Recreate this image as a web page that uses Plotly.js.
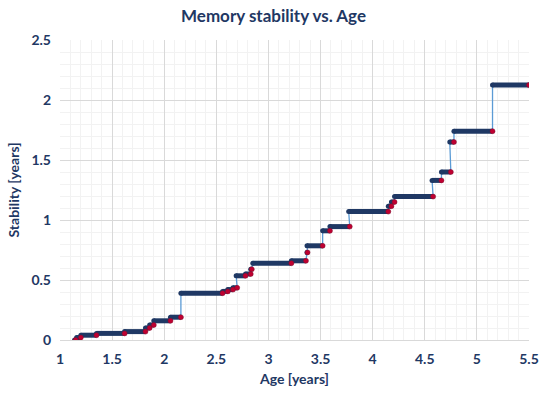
<!DOCTYPE html>
<html>
<head>
<meta charset="utf-8">
<script src="https://cdn.plot.ly/plotly-3.0.1.min.js"></script>
<style>html,body{margin:0;padding:0;background:#fff;}#chart{width:547px;height:397px;}</style>
</head>
<body>
<div id="chart"></div>
<script>
// Plateaus of memory stability (age in years)
const stepStart = [1.14, 1.16, 1.20, 1.35, 1.62, 1.82, 1.86, 1.90, 2.06, 2.16, 2.56, 2.61, 2.66, 2.69, 2.78, 2.83, 2.85, 3.22, 3.37, 3.37, 3.52, 3.59, 3.77, 4.15, 4.18, 4.21, 4.57, 4.66, 4.74, 4.78, 5.15];
const stepEnd   = [1.15, 1.20, 1.35, 1.62, 1.82, 1.86, 1.90, 2.06, 2.16, 2.56, 2.61, 2.66, 2.70, 2.78, 2.83, 2.84, 3.22, 3.36, 3.375, 3.52, 3.59, 3.78, 4.15, 4.18, 4.21, 4.58, 4.66, 4.75, 4.78, 5.15, 5.50];
const stepValue = [0.00, 0.02, 0.04, 0.055, 0.07, 0.10, 0.125, 0.16, 0.19, 0.39, 0.405, 0.42, 0.435, 0.535, 0.55, 0.59, 0.64, 0.66, 0.73, 0.785, 0.91, 0.945, 1.07, 1.115, 1.15, 1.195, 1.33, 1.40, 1.65, 1.74, 2.125];
const xTicks = [1, 1.5, 2, 2.5, 3, 3.5, 4, 4.5, 5, 5.5];
const yTicks = [0, 0.5, 1, 1.5, 2, 2.5];

const navy = '#1F3864';
const fontFam = 'Lato, "Open Sans", sans-serif';

// thin connecting line
const connX = [], connY = [];
for (let i = 0; i < stepStart.length; i++) {
  connX.push(stepStart[i], stepEnd[i]);
  connY.push(stepValue[i], stepValue[i]);
}
// thick plateaus
const barX = [], barY = [];
for (let i = 0; i < stepStart.length; i++) {
  barX.push(stepStart[i], stepEnd[i], null);
  barY.push(stepValue[i], stepValue[i], null);
}

const traces = [
  {x: connX, y: connY, mode: 'lines', line: {color: '#5B9BD5', width: 1.3}, hoverinfo: 'skip'},
  {x: barX, y: barY, mode: 'lines', line: {color: navy, width: 5}, connectgaps: false},
  {x: stepStart, y: stepValue, mode: 'markers', marker: {color: navy, size: 5}},
  {x: stepEnd, y: stepValue, mode: 'markers', marker: {color: '#C00030', size: 5, line: {color: '#7a1030', width: 0.5}}}
];

const layout = {
  width: 547, height: 397,
  margin: {l: 60, r: 18, t: 40, b: 57},
  paper_bgcolor: '#ffffff', plot_bgcolor: '#ffffff',
  showlegend: false,
  title: {text: 'Memory stability vs. Age', x: 0.5, xanchor: 'center', y: 0.975, yanchor: 'top',
          font: {family: fontFam, size: 17, color: navy, weight: 'bold'}},
  xaxis: {
    range: [1, 5.5], tickvals: xTicks, ticktext: xTicks.map(String),
    showgrid: true, gridcolor: '#D9D9D9', gridwidth: 1,
    minor: {dtick: 0.1, showgrid: true, gridcolor: '#F2F2F2', gridwidth: 1},
    zeroline: false, showline: true, linecolor: '#D9D9D9', linewidth: 1, mirror: false,
    ticks: '', ticklen: 0, ticklabelstandoff: 6,
    tickfont: {family: fontFam, size: 14, color: navy, weight: 'bold'},
    title: {text: 'Age [years]', standoff: 8, font: {family: fontFam, size: 14, color: navy, weight: 'bold'}}
  },
  yaxis: {
    range: [0, 2.5], tickvals: yTicks, ticktext: ['0', '0.5', '1', '1.5', '2', '2.5'],
    showgrid: true, gridcolor: '#D9D9D9', gridwidth: 1,
    minor: {dtick: 0.1, showgrid: true, gridcolor: '#F2F2F2', gridwidth: 1},
    zeroline: false, showline: false,
    ticks: '', ticklen: 0, ticklabelstandoff: 8,
    tickfont: {family: fontFam, size: 14, color: navy, weight: 'bold'},
    title: {text: 'Stability [years]', standoff: 8, font: {family: fontFam, size: 14, color: navy, weight: 'bold'}}
  }
};

Plotly.newPlot('chart', traces, layout, {displayModeBar: false, staticPlot: true});
</script>
</body>
</html>
